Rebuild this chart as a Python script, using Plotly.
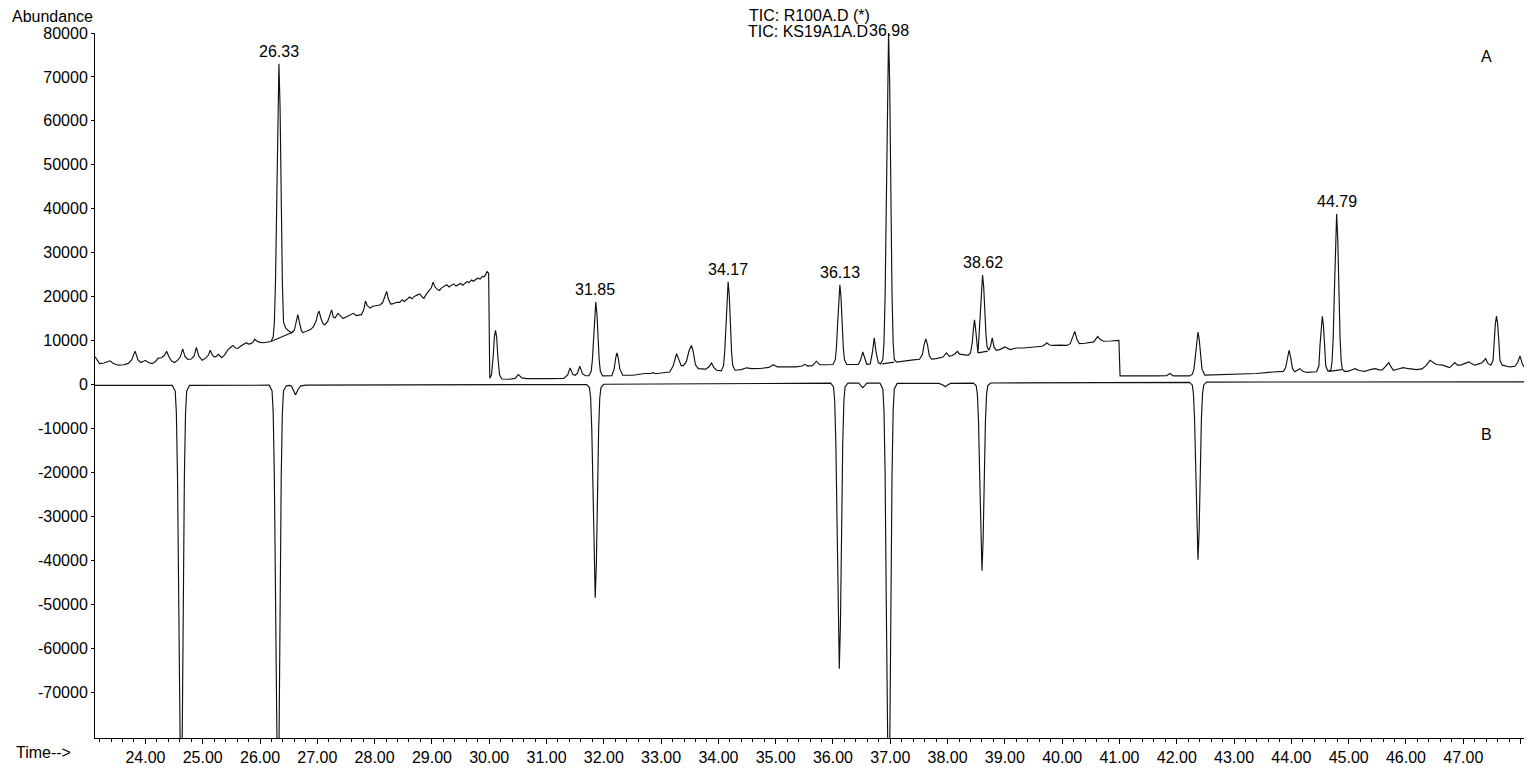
import plotly.graph_objects as go

# ---------------- data ----------------
time_A = [23.12, 23.16, 23.20, 23.28, 23.34, 23.38, 23.44, 23.53, 23.62, 23.70, 23.76, 23.82, 23.87, 23.92, 23.97,
          24.00, 24.05, 24.12, 24.18, 24.22, 24.28, 24.33, 24.37, 24.41, 24.46, 24.51, 24.56, 24.61, 24.65, 24.69,
          24.74, 24.80, 24.85, 24.89, 24.93, 24.99, 25.05, 25.10, 25.13, 25.17, 25.20, 25.24, 25.27, 25.30, 25.33,
          25.38, 25.44, 25.50, 25.53, 25.57, 25.61, 25.66, 25.71, 25.76, 25.80, 25.84, 25.88, 25.91, 25.94, 26.00,
          26.06, 26.12, 26.19, 26.23, 26.25, 26.27, 26.29, 26.31, 26.33, 26.35, 26.37, 26.39, 26.41, 26.45, 26.49,
          26.55, 26.60, 26.63, 26.66, 26.69, 26.72, 26.75, 26.82, 26.88, 26.93, 26.98, 27.01, 27.03, 27.06, 27.10,
          27.13, 27.18, 27.22, 27.25, 27.28, 27.31, 27.36, 27.40, 27.45, 27.52, 27.58, 27.63, 27.68, 27.73, 27.77,
          27.81, 27.84, 27.87, 27.92, 27.97, 28.02, 28.09, 28.14, 28.18, 28.21, 28.24, 28.28, 28.33, 28.38, 28.44,
          28.48, 28.52, 28.57, 28.61, 28.65, 28.70, 28.75, 28.79, 28.83, 28.86, 28.90, 28.95, 28.99, 29.02, 29.05,
          29.09, 29.13, 29.17, 29.21, 29.26, 29.30, 29.34, 29.38, 29.42, 29.46, 29.50, 29.54, 29.58, 29.61, 29.65,
          29.69, 29.72, 29.76, 29.80, 29.84, 29.88, 29.91, 29.94, 29.96, 29.99, 30.01, 30.04, 30.07, 30.09, 30.11,
          30.13, 30.15, 30.18, 30.22, 30.35, 30.45, 30.51, 30.57, 30.65, 31.00, 31.30, 31.37, 31.41, 31.46, 31.50,
          31.54, 31.58, 31.63, 31.68, 31.74, 31.78, 31.80, 31.82, 31.84, 31.86, 31.88, 31.90, 31.92, 31.94, 31.98,
          32.14, 32.18, 32.21, 32.23, 32.25, 32.28, 32.33, 32.51, 32.71, 32.82, 32.86, 32.91, 33.10, 33.15, 33.21,
          33.25, 33.27, 33.30, 33.35, 33.39, 33.44, 33.49, 33.53, 33.56, 33.60, 33.65, 33.78, 33.84, 33.88, 33.92,
          33.97, 34.05, 34.09, 34.11, 34.13, 34.15, 34.17, 34.19, 34.21, 34.23, 34.25, 34.29, 34.40, 34.49, 34.58,
          34.73, 34.88, 34.96, 35.03, 35.20, 35.36, 35.46, 35.51, 35.56, 35.64, 35.71, 35.77, 35.88, 36.00, 36.04,
          36.06, 36.08, 36.10, 36.12, 36.14, 36.16, 36.18, 36.20, 36.24, 36.44, 36.48, 36.52, 36.56, 36.59, 36.65,
          36.69, 36.72, 36.75, 36.79, 36.83, 36.87, 36.89, 36.91, 36.93, 36.95, 36.97, 36.99, 37.01, 37.03, 37.05,
          37.07, 37.11, 37.20, 37.28, 37.40, 37.51, 37.56, 37.59, 37.62, 37.65, 37.68, 37.72, 37.80, 37.92, 37.98,
          38.03, 38.08, 38.13, 38.17, 38.21, 38.28, 38.36, 38.40, 38.43, 38.45, 38.47, 38.49, 38.51, 38.53, 38.55,
          38.57, 38.59, 38.61, 38.63, 38.65, 38.67, 38.69, 38.72, 38.75, 38.78, 38.81, 38.85, 38.92, 39.00, 39.09,
          39.20, 39.32, 39.45, 39.55, 39.65, 39.70, 39.73, 39.78, 39.84, 39.95, 40.08, 40.14, 40.18, 40.22, 40.26,
          40.30, 40.40, 40.48, 40.55, 40.59, 40.62, 40.66, 40.72, 40.85, 40.99, 41.01, 41.18, 41.40, 41.65, 41.82,
          41.88, 41.94, 42.22, 42.27, 42.30, 42.33, 42.35, 42.37, 42.39, 42.41, 42.44, 42.49, 42.81, 43.10, 43.39,
          43.68, 43.86, 43.90, 43.93, 43.96, 43.99, 44.02, 44.06, 44.11, 44.15, 44.20, 44.27, 44.44, 44.48, 44.50,
          44.52, 44.54, 44.56, 44.58, 44.60, 44.64, 44.69, 44.71, 44.73, 44.75, 44.77, 44.79, 44.81, 44.83, 44.85,
          44.87, 44.89, 44.93, 44.98, 45.05, 45.11, 45.18, 45.28, 45.38, 45.46, 45.52, 45.58, 45.65, 45.70, 45.74,
          45.78, 45.88, 45.95, 46.05, 46.18, 46.28, 46.35, 46.42, 46.48, 46.53, 46.64, 46.72, 46.76, 46.81, 46.85,
          46.90, 46.95, 47.02, 47.10, 47.15, 47.20, 47.27, 47.32, 47.36, 47.39, 47.43, 47.48, 47.52, 47.54, 47.56,
          47.58, 47.60, 47.62, 47.64, 47.68, 47.81, 47.90, 47.95, 47.99, 48.03, 48.06]

abund_A = [6300, 5400, 4750, 4900, 5300, 5400, 4800, 4400, 4500, 4800, 5600, 7600, 5600, 5000, 5300,
           5500, 5000, 4750, 5300, 6000, 6100, 6600, 7550, 6300, 5300, 5000, 5500, 6300, 8100, 6400,
           5700, 5800, 6500, 8450, 6500, 5500, 6000, 6700, 7800, 6700, 6300, 6400, 6900, 6400, 6100,
           6700, 7900, 8600, 8900, 8300, 8200, 8700, 9200, 9500, 9200, 9300, 9700, 10300, 9900, 9600,
           9500, 9700, 9800, 10800, 14000, 23300, 41500, 63000, 73000, 63000, 41500, 23300, 14200, 12800, 12300,
           11800, 12400, 14000, 15900, 14000, 12300, 11800, 12100, 12500, 13100, 14500, 16200, 16700, 15200, 13800,
           13600, 14300, 15800, 17000, 15300, 15200, 16200, 15600, 15000, 15500, 15800, 16200, 15700, 15800, 15900,
           17000, 19000, 18000, 17400, 17800, 17900, 18100, 18600, 20000, 21200, 19500, 18300, 18400, 18700, 18700,
           19300, 18900, 19500, 19900, 19500, 20100, 20400, 20600, 19900, 19600, 20500, 21200, 22000, 23300, 22300,
           21700, 21400, 22000, 22400, 22700, 22200, 22500, 22900, 22400, 22700, 23000, 22600, 23100, 23400, 23200,
           23800, 23500, 23900, 24200, 24000, 24600, 24500, 25000, 25700, 25300, 1400, 2200, 6500, 10800, 12300,
           10800, 6500, 2200, 1250, 1200, 1400, 2250, 1500, 1350, 1350, 1400, 2200, 3750, 2300, 2100,
           2600, 4150, 2400, 2000, 2000, 3000, 5500, 10350, 16100, 18750, 16100, 10350, 5500, 3000, 1950,
           2000, 3500, 6200, 7200, 6200, 3500, 2100, 2100, 2500, 2500, 2700, 2450, 2800, 2850, 4200,
           6300, 7000, 6000, 4300, 4300, 5200, 7800, 8900, 7500, 4500, 3600, 3500, 4100, 4900, 3900,
           3250, 3100, 4300, 7400, 13250, 20150, 23400, 20150, 13250, 7400, 4300, 3250, 3400, 3800, 3600,
           3650, 3900, 4500, 4000, 4000, 4000, 4200, 4600, 4200, 4300, 5300, 4500, 4500, 4550, 5650,
           8400, 13600, 19800, 22700, 19800, 13600, 8400, 5650, 4550, 4550, 5500, 7400, 5500, 4600, 4700,
           7500, 10600, 7500, 5000, 4700, 5700, 9500, 20500, 42300, 68000, 80000, 68000, 42300, 20500, 9500,
           5700, 5100, 5300, 5500, 5600, 5750, 6800, 9000, 10400, 9000, 6600, 5800, 5900, 6250, 7200,
           6400, 6600, 7000, 7550, 6900, 6800, 6650, 7200, 9500, 12500, 14700, 12500, 8600, 7200, 11300,
           16000, 22300, 24900, 22300, 16000, 11300, 8600, 7800, 8800, 10600, 8500, 7800, 8000, 8550, 7950,
           8300, 8300, 8400, 8550, 8700, 9100, 9500, 9000, 8900, 8950, 8900, 9300, 10500, 12100, 10200,
           9300, 9400, 9500, 9700, 10400, 10950, 10300, 9850, 9900, 10050, 1950, 1900, 1950, 1950, 2000,
           2500, 1950, 1950, 2300, 3500, 7000, 10500, 11950, 10500, 7000, 3500, 2150, 2250, 2350, 2500,
           2850, 3000, 3800, 6000, 7800, 6000, 3600, 2900, 3200, 3600, 3000, 2750, 2900, 4200, 9000,
           13500, 15500, 13500, 9000, 4200, 3000, 3300, 5300, 10500, 20900, 33000, 38800, 33000, 20900, 10500,
           5300, 3500, 3000, 3000, 3300, 3600, 3200, 3000, 3400, 3600, 3400, 3250, 4200, 5000, 4000,
           3250, 3600, 3850, 3600, 3400, 3550, 4300, 5500, 5000, 4550, 4400, 4000, 3850, 4400, 5000,
           4400, 4400, 4750, 5150, 4700, 4400, 4700, 4900, 5400, 5900, 4800, 4400, 5500, 10000, 13800,
           15550, 13800, 10000, 5500, 4400, 4000, 4150, 5000, 6500, 4700, 4000]

time_B = [23.12, 24.47, 24.52, 24.54, 24.56, 24.58, 24.60, 24.62, 24.64, 24.66, 24.68, 24.70, 24.72, 24.77,
          26.16, 26.21, 26.23, 26.25, 26.27, 26.29, 26.31, 26.33, 26.35, 26.37, 26.39, 26.41, 26.46, 26.52,
          26.55, 26.59, 26.62, 26.66, 26.71, 26.80,
          31.70, 31.75, 31.77, 31.79, 31.81, 31.83, 31.85, 31.87, 31.89, 31.91, 31.93, 31.95, 32.00,
          35.96, 36.01, 36.03, 36.05, 36.07, 36.09, 36.11, 36.13, 36.15, 36.17, 36.19, 36.21, 36.26,
          36.45, 36.49, 36.52, 36.55, 36.59,
          36.82, 36.87, 36.89, 36.91, 36.93, 36.95, 36.97, 36.99, 37.01, 37.03, 37.05, 37.07, 37.12,
          37.85, 37.92, 37.96, 38.00, 38.05,
          38.45, 38.50, 38.52, 38.54, 38.56, 38.58, 38.60, 38.62, 38.64, 38.66, 38.68, 38.70, 38.75,
          42.22, 42.27, 42.29, 42.31, 42.33, 42.35, 42.37, 42.39, 42.41, 42.43, 42.45, 42.47, 42.52,
          48.06]

abund_B = [-200, -200, -1500, -6500, -21000, -50000, -84000, -100000, -84000, -50000, -21000, -6500, -1500, -200,
           -150, -1400, -6400, -21000, -50000, -84000, -100000, -84000, -50000, -21000, -6400, -1400, -300, -200,
           -400, -1600, -2400, -1200, -300, -150,
           0, -700, -3000, -10000, -24000, -41000, -48500, -41000, -24000, -10000, -3000, -700, 50,
           300, -550, -3800, -13500, -32000, -54500, -64700, -54500, -32000, -13500, -3800, -550, 300,
           300, -300, -700, -300, 300,
           300, -1000, -6000, -20700, -49700, -83700, -100000, -83700, -49700, -20700, -6000, -1000, 250,
           250, -100, -500, -100, 250,
           300, -300, -2300, -8500, -20500, -35500, -42400, -35500, -20500, -8500, -2300, -300, 350,
           500, -100, -2000, -7800, -19300, -33400, -39900, -33400, -19300, -7800, -2000, -100, 550,
           600]

# integration baselines drawn under some peaks
integ_time = [26.20, 26.58, None, 36.86, 37.07, None, 38.53, 38.70, None, 44.66, 44.88]
integ_abund = [9830, 11950, None, 4700, 5100, None, 7200, 7600, None, 3000, 3400]

# peak labels
peak_labels = ["26.33", "31.85", "34.17", "36.13", "36.98", "38.62", "44.79"]
peak_time = [26.33, 31.85, 34.17, 36.13, 36.98, 38.62, 44.79]
peak_height = [73000, 18750, 23400, 22700, 80000, 24900, 38800]

# axis ticks
x_tick_vals = list(range(24, 49))
x_tick_text = ["%d.00" % v for v in range(24, 48)] + [""]
y_tick_vals = list(range(-70000, 80001, 10000))
y_tick_text = [str(v) for v in y_tick_vals]

# ---------------- figure ----------------
FONT = "Liberation Sans, Arial, Helvetica, sans-serif"
FS = 16
X_RANGE = [23.12, 48.06]
Y_RANGE = [-80450, 80000]
LINE = dict(color="#111111", width=1.15)

fig = go.Figure()
fig.add_trace(go.Scatter(x=time_A, y=abund_A, mode="lines", line=LINE, hoverinfo="x+y"))
fig.add_trace(go.Scatter(x=time_B, y=abund_B, mode="lines", line=LINE, hoverinfo="x+y"))
fig.add_trace(go.Scatter(x=integ_time, y=integ_abund, mode="lines", connectgaps=False,
                         line=LINE, hoverinfo="skip"))

txt = dict(family=FONT, size=FS, color="black")
annotations = []
for lab, t, h in zip(peak_labels, peak_time, peak_height):
    annotations.append(dict(x=t, y=h, xref="x", yref="y", text=lab, showarrow=False,
                            yanchor="bottom", xanchor="center",
                            yshift=(-8 if h >= Y_RANGE[1] else 2), font=txt))

annotations += [
    dict(xref="paper", yref="paper", x=0, y=1.0232, text="Abundance", showarrow=False,
         xanchor="right", yanchor="middle", font=txt),
    dict(xref="paper", yref="paper", x=-0.0567, y=-0.0212, text="Time-->", showarrow=False,
         xanchor="left", yanchor="middle", font=txt),
    dict(xref="paper", yref="paper", x=0.4565, y=1.0245, text="TIC: R100A.D (*)", showarrow=False,
         xanchor="left", yanchor="middle", font=txt),
    # second data-file line ends where the 36.98 peak label begins
    dict(xref="x", yref="paper", x=36.98, y=1.0028, text="TIC: KS19A1A.D", showarrow=False,
         xanchor="right", yanchor="middle", xshift=-19, font=txt),
    dict(xref="x", yref="y", x=47.41, y=74600, text="A", showarrow=False,
         xanchor="center", yanchor="middle", font=txt),
    dict(xref="x", yref="y", x=47.41, y=-11340, text="B", showarrow=False,
         xanchor="center", yanchor="middle", font=txt),
]

fig.update_layout(
    width=1529, height=771,
    margin=dict(l=95, r=5, t=33, b=30, pad=0),
    paper_bgcolor="white", plot_bgcolor="white",
    showlegend=False,
    annotations=annotations,
    font=txt,
    xaxis=dict(range=X_RANGE, showgrid=False, zeroline=False,
               showline=True, linecolor="black", linewidth=1,
               ticks="outside", ticklen=5, tickcolor="black", tickwidth=1,
               tickmode="array", tickvals=x_tick_vals, ticktext=x_tick_text,
               tickfont=txt,
               minor=dict(ticks="outside", ticklen=3, tickcolor="black", tickwidth=1,
                          tickmode="linear", tick0=24, dtick=0.2, showgrid=False)),
    yaxis=dict(range=Y_RANGE, showgrid=False, zeroline=False,
               showline=True, linecolor="black", linewidth=1,
               ticks="outside", ticklen=3, tickcolor="black", tickwidth=1,
               tickmode="array", tickvals=y_tick_vals, ticktext=y_tick_text,
               tickfont=txt),
)

fig.write_html("out.html")
